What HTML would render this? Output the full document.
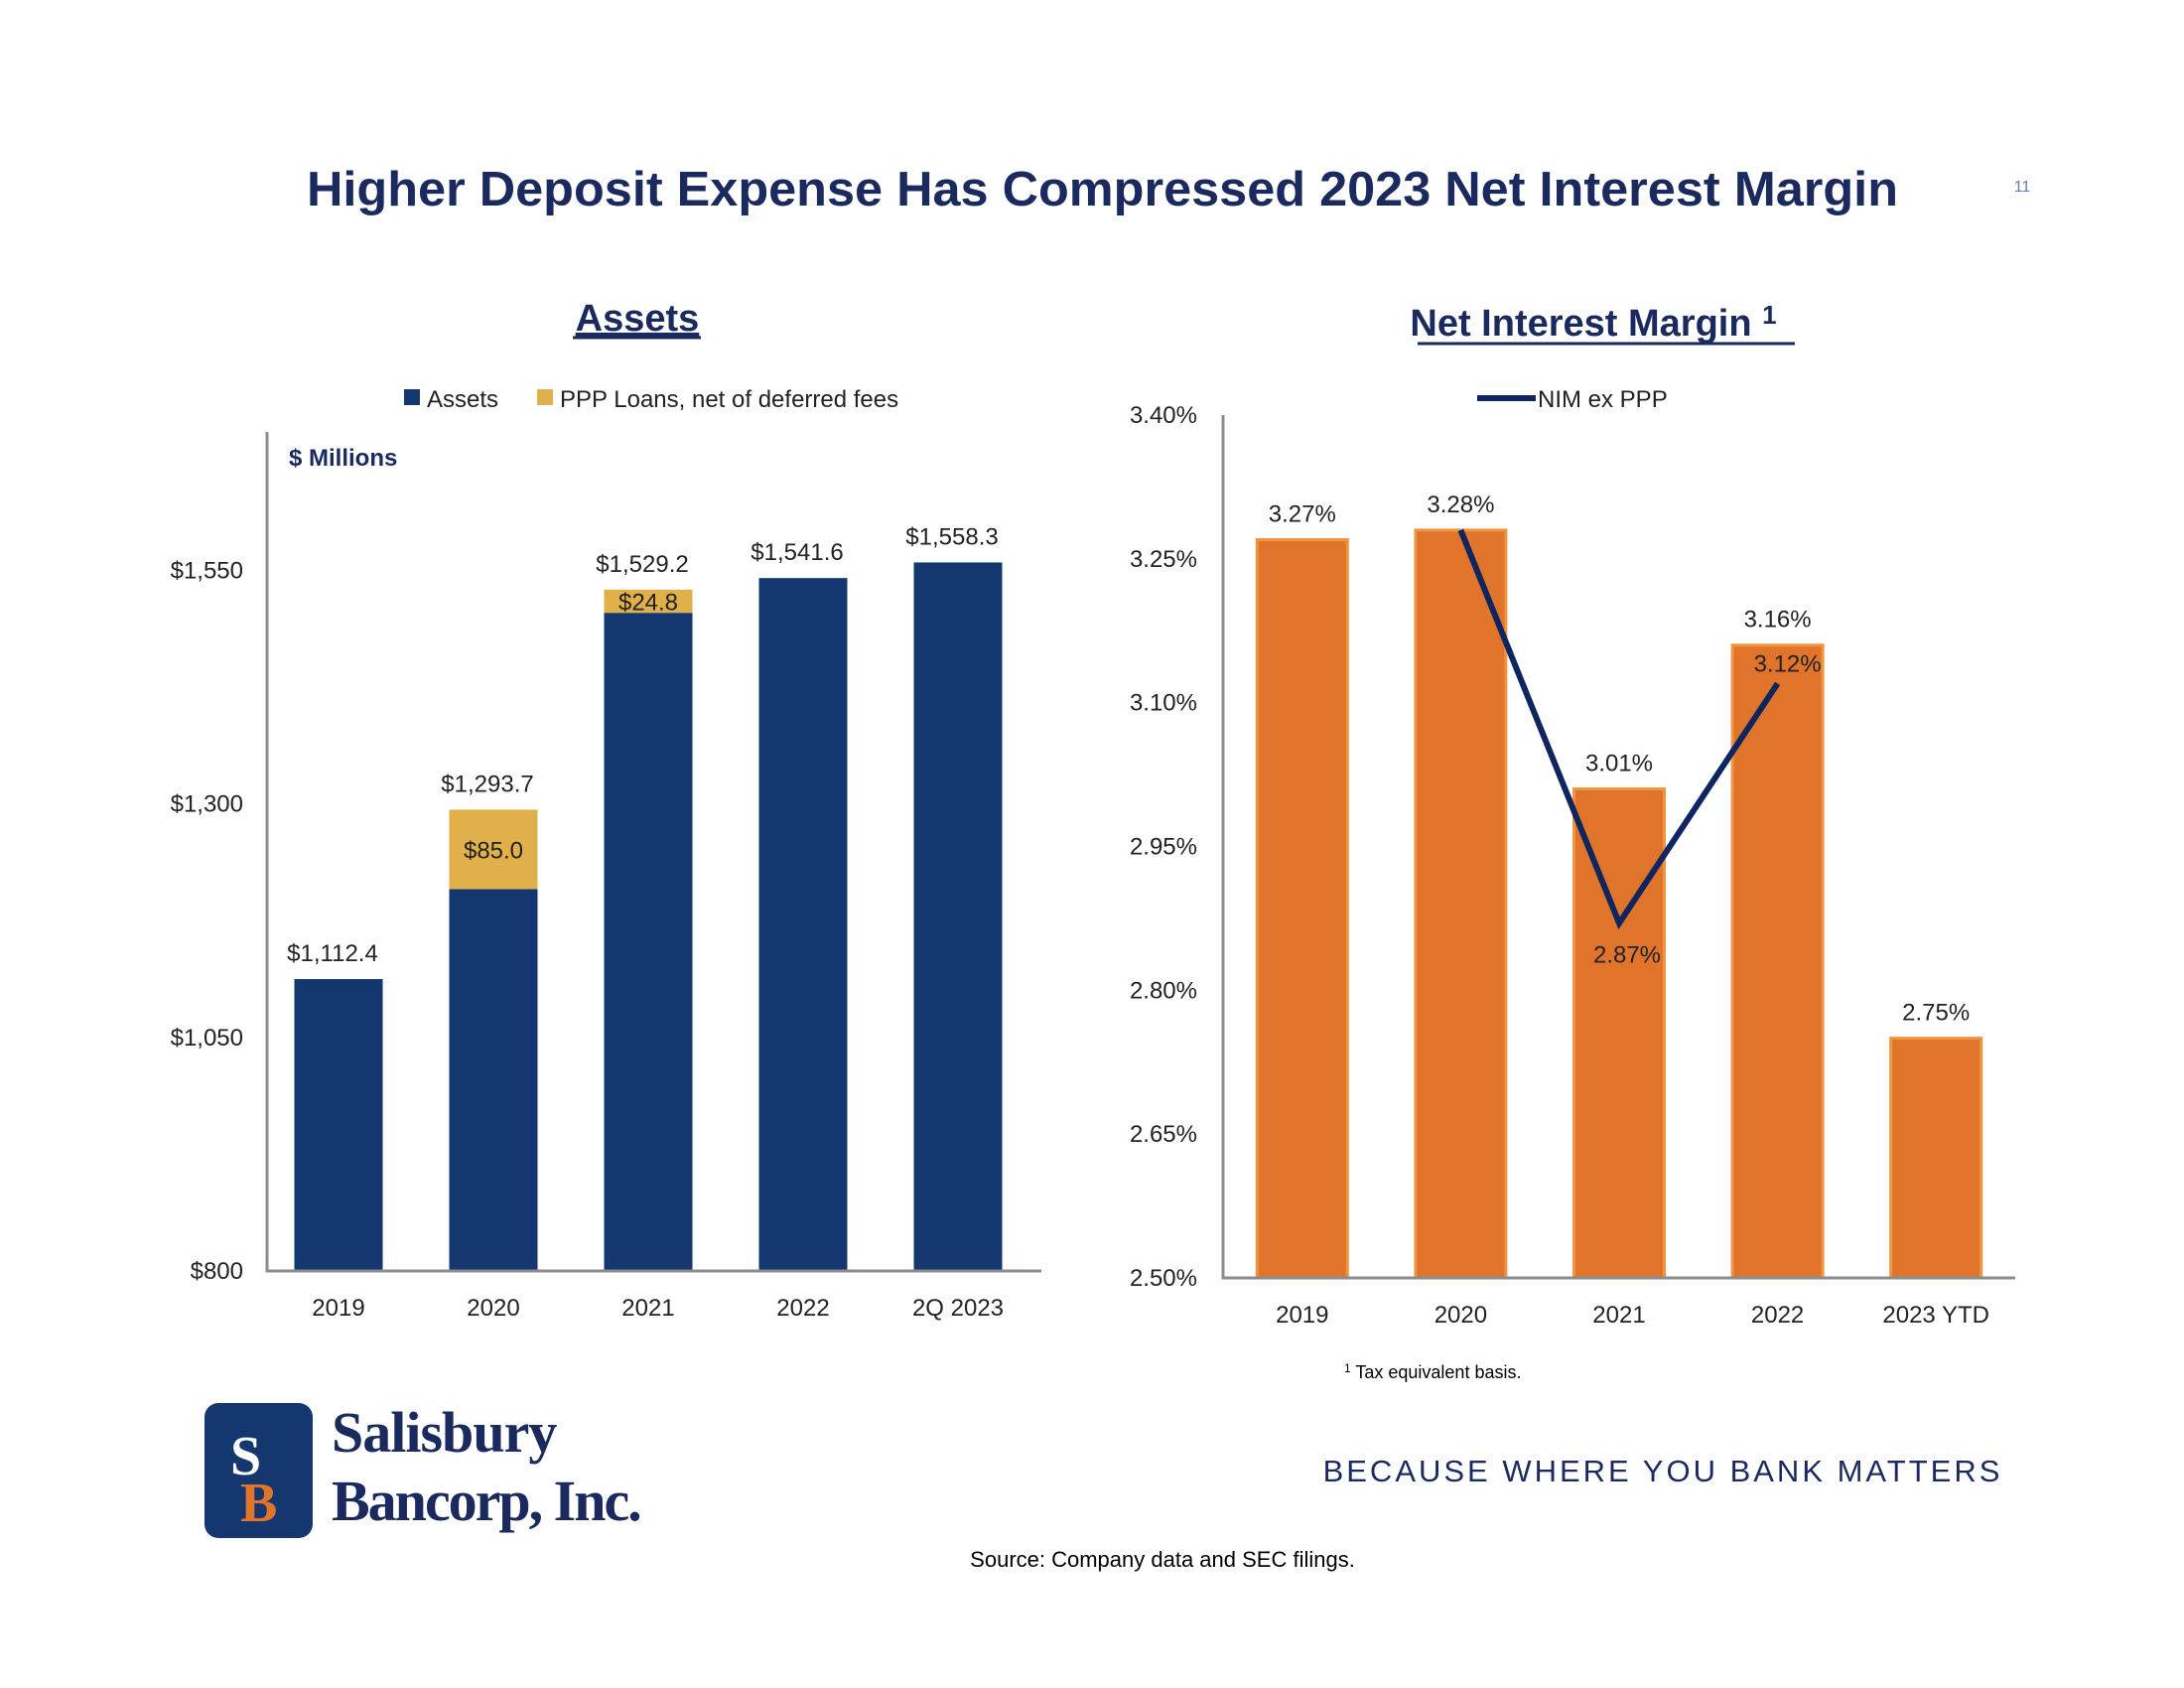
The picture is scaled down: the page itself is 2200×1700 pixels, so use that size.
<!DOCTYPE html>
<html><head><meta charset="utf-8"><style>
html,body{margin:0;padding:0;background:#fff;}
body{width:2200px;height:1700px;position:relative;overflow:hidden;font-family:"Liberation Sans",sans-serif;}
svg{position:absolute;left:0;top:0;}
</style></head><body>
<svg id="s" width="2200" height="1700" viewBox="0 0 2200 1700">
<text x="309" y="207" textLength="1603" lengthAdjust="spacingAndGlyphs" font-size="49" font-weight="bold" fill="#1B2A5E">Higher Deposit Expense Has Compressed 2023 Net Interest Margin</text>
<text x="2037" y="193" text-anchor="middle" font-size="16" fill="#6A7BA8">11</text>
<text x="642" y="333" text-anchor="middle" font-size="38" font-weight="bold" fill="#1B2A5E" text-decoration="underline">Assets</text>
<line x1="577" y1="340" x2="706" y2="340" stroke="#1B2A5E" stroke-width="3"/>
<text x="1605" y="338" text-anchor="middle" font-size="38" font-weight="bold" fill="#1B2A5E">Net Interest Margin <tspan font-size="26" dy="-12">1</tspan></text>
<line x1="1428" y1="346" x2="1808" y2="346" stroke="#1B2A5E" stroke-width="3"/>
<g id="left"></g><g id="right"></g>
<text x="1354" y="1388" font-size="18" fill="#000"><tspan font-size="12" dy="-6">1</tspan><tspan dy="6"> Tax equivalent basis.</tspan></text>
<g>
<rect x="206" y="1413" width="109" height="136" rx="14" fill="#14376F"/>
<text x="232" y="1485" font-family="Liberation Serif,serif" font-size="56" font-weight="bold" fill="#fff">S</text>
<text x="242" y="1532" font-family="Liberation Serif,serif" font-size="56" font-weight="bold" fill="#E0742B">B</text>
<text x="334" y="1462" font-family="Liberation Serif,serif" font-size="58" font-weight="bold" fill="#1B2A5E" letter-spacing="-1">Salisbury</text>
<text x="334" y="1531" font-family="Liberation Serif,serif" font-size="58" font-weight="bold" fill="#1B2A5E" letter-spacing="-2">Bancorp, Inc.</text>
</g>
<text x="1675" y="1492" text-anchor="middle" font-size="31" fill="#1B2A5E" letter-spacing="3">BECAUSE WHERE YOU BANK MATTERS</text>
<text x="1171" y="1578" text-anchor="middle" font-size="22" fill="#000">Source: Company data and SEC filings.</text>
</svg>
<script>
const assetCats=["2019","2020","2021","2022","2Q 2023"];
const assetBase=[1112.4,1208.7,1504.4,1541.6,1558.3];
const pppVals=[0,85.0,24.8,0,0];
const assetTicks=[800,1050,1300,1550];
const nimCats=["2019","2020","2021","2022","2023 YTD"];
const nimVals=[3.27,3.28,3.01,3.16,2.75];
const nimExPPP=[null,3.28,2.87,3.12,null];
const nimTicks=[2.50,2.65,2.80,2.95,3.10,3.25,3.40];

const NS="http://www.w3.org/2000/svg";
function mk(p,t,a,txt){const e=document.createElementNS(NS,t);for(const k in a)e.setAttribute(k,a[k]);if(txt!==undefined)e.textContent=txt;p.appendChild(e);return e;}
const F="'Liberation Sans',sans-serif";
// LEFT
const L=document.getElementById('left');
const lx0=269,lx1=1049,lyB=1280,lyT=435,lmin=800,lmax=1698;
const ly=v=>lyB-(v-lmin)/(lmax-lmin)*(lyB-lyT);
const lstep=(lx1-lx0)/assetCats.length;
const lxc=i=>lx0+lstep*(i+0.5)-6;
const bw=89;
let e;
e=mk(L,'rect',{x:407,y:392,width:16,height:16,fill:'#14376F'});

e=mk(L,'text',{x:430,y:410,'font-size':24,fill:'#222','font-family':F},'Assets');

e=mk(L,'rect',{x:541,y:392,width:16,height:16,fill:'#E0B04A'});

e=mk(L,'text',{x:564,y:410,'font-size':24,fill:'#222','font-family':F},'PPP Loans, net of deferred fees');

e=mk(L,'text',{x:291,y:469,'font-size':24,'font-weight':'bold',fill:'#1B2A5E','font-family':F},'$ Millions');

assetTicks.forEach(t=>{e=mk(L,'text',{x:245,y:ly(t)+8,'text-anchor':'end','font-size':24,fill:'#222','font-family':F},'$'+t.toLocaleString('en-US'));
});
assetCats.forEach((c,i)=>{
 const x=lxc(i)-bw/2;
 e=mk(L,'rect',{x:x,y:ly(assetBase[i]),width:bw,height:lyB-ly(assetBase[i]),fill:'#14376F'});
 
 const tot=assetBase[i]+pppVals[i];
 if(pppVals[i]>0){
  e=mk(L,'rect',{x:x,y:ly(tot),width:bw,height:ly(assetBase[i])-ly(tot),fill:'#E0B04A'});
  
  e=mk(L,'text',{x:lxc(i),y:(ly(tot)+ly(assetBase[i]))/2+9,'text-anchor':'middle','font-size':24,fill:'#222','font-family':F},'$'+pppVals[i].toFixed(1));
  
 }
 e=mk(L,'text',{x:lxc(i)-6,y:ly(tot)-18,'text-anchor':'middle','font-size':24,fill:'#222','font-family':F},'$'+tot.toLocaleString('en-US',{minimumFractionDigits:1,maximumFractionDigits:1}));
 
 e=mk(L,'text',{x:lxc(i),y:1325,'text-anchor':'middle','font-size':24,fill:'#222','font-family':F},c);
 
});
e=mk(L,'path',{d:`M${lx0} ${lyT}V${lyB}H${lx1}`,fill:'none',stroke:'#8C8C8C','stroke-width':3});

// RIGHT
const R=document.getElementById('right');
const rx0=1232,rx1=2030,ryB=1287,ryT=418,rmin=2.5,rmax=3.4;
const ry=v=>ryB-(v-rmin)/(rmax-rmin)*(ryB-ryT);
const rstep=(rx1-rx0)/nimCats.length;
const rxc=i=>rx0+rstep*(i+0.5);
const rbw=91;
nimTicks.forEach(t=>{e=mk(R,'text',{x:1206,y:ry(t)+8,'text-anchor':'end','font-size':24,fill:'#222','font-family':F},t.toFixed(2)+'%');
});
nimCats.forEach((c,i)=>{
 e=mk(R,'rect',{x:rxc(i)-rbw/2,y:ry(nimVals[i]),width:rbw,height:ryB-ry(nimVals[i]),fill:'#E0742B',stroke:'#F0953F','stroke-width':3});
 
 e=mk(R,'text',{x:rxc(i),y:ry(nimVals[i])-18,'text-anchor':'middle','font-size':24,fill:'#222','font-family':F},nimVals[i].toFixed(2)+'%');
 
 e=mk(R,'text',{x:rxc(i),y:1332,'text-anchor':'middle','font-size':24,fill:'#222','font-family':F},c);
 
});
e=mk(R,'path',{d:`M${rx0} ${ryT}V${ryB}H${rx1}`,fill:'none',stroke:'#8C8C8C','stroke-width':3});

let pts=[];nimExPPP.forEach((v,i)=>{if(v!==null)pts.push([rxc(i),ry(v)]);});
e=mk(R,'polyline',{points:pts.map(p=>p.join(',')).join(' '),fill:'none',stroke:'#0F2560','stroke-width':6});

nimExPPP.forEach((v,i)=>{if(v===null||i===1)return;
 const below=(i>0&&nimExPPP[i-1]!==null&&nimExPPP[i-1]>v);
 e=mk(R,'text',{x:rxc(i)+(below?8:10),y:below?ry(v)+40:ry(v)-12,'text-anchor':'middle','font-size':24,fill:'#222','font-family':F},v.toFixed(2)+'%');
 });
e=mk(R,'line',{x1:1488,y1:401,x2:1547,y2:401,stroke:'#0F2560','stroke-width':6});

e=mk(R,'text',{x:1549,y:410,'font-size':24,fill:'#222','font-family':F},'NIM ex PPP');

</script>
</body></html>
